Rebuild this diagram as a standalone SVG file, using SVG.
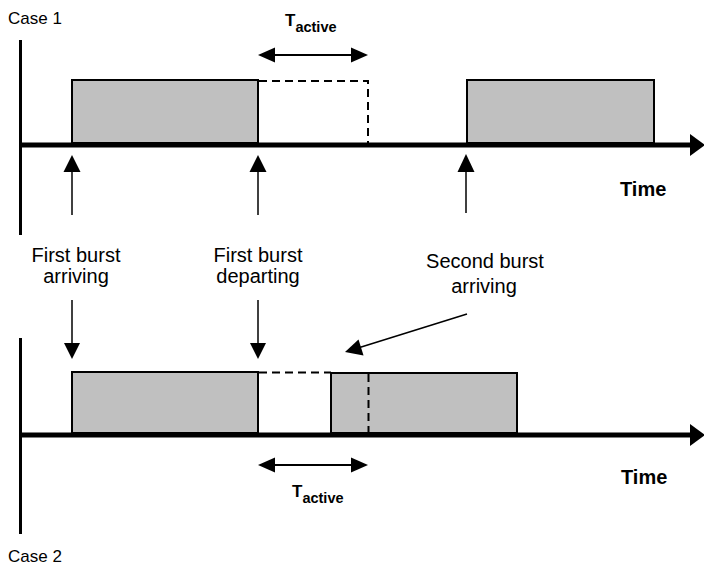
<svg xmlns="http://www.w3.org/2000/svg" width="704" height="571" viewBox="0 0 704 571">
<defs>
<style>
text{font-family:"Liberation Sans",Arial,sans-serif;fill:#000}
.lbl{font-size:20px}
.case{font-size:17px}
.time{font-size:20px;font-weight:bold}
.tb{font-size:17px;font-weight:bold}
.ts{font-size:14.5px;font-weight:bold}
.box{fill:#c0c0c0;stroke:#000;stroke-width:2}
.dash{fill:none;stroke:#000;stroke-width:2;stroke-dasharray:8,5}
.vax{stroke:#000;stroke-width:3}
.hax{stroke:#000;stroke-width:5}
.ln{stroke:#000;stroke-width:2;fill:none}
.ln1{stroke:#000;stroke-width:1.5;fill:none}
.hd{fill:#000}
</style>
</defs>
<text class="case" x="8" y="24">Case 1</text>
<text class="case" x="8" y="562">Case 2</text>

<g id="case1-axes">
<line class="vax" x1="20.5" y1="40" x2="20.5" y2="235"/>
<line class="hax" x1="22" y1="145" x2="692" y2="145"/>
<polygon class="hd" points="690,134 705,145 690,156"/>
</g>
<g id="case1-burst1"><rect class="box" x="72" y="80" width="186" height="63"/></g>
<g id="case1-active"><polyline class="dash" points="259,81 368,81 368,143"/></g>
<g id="case1-burst2"><rect class="box" x="467" y="80" width="187" height="63"/></g>
<g id="case1-tactive">
<text x="285" y="26"><tspan class="tb">T</tspan><tspan class="ts" dy="5.5">active</tspan></text>
</g>
<text class="time" x="620" y="196">Time</text>

<g id="case2-axes">
<line class="vax" x1="20.5" y1="338" x2="20.5" y2="534"/>
<line class="hax" x1="22" y1="435" x2="692" y2="435"/>
<polygon class="hd" points="690,424 705,435 690,446"/>
</g>
<g id="case2-burst1"><rect class="box" x="72" y="372" width="186" height="61"/></g>
<g id="case2-burst2"><rect class="box" x="331" y="373" width="186" height="60"/></g>
<g id="case2-active"><polyline class="dash" points="259,372.5 331,372.5"/><line class="dash" x1="368.5" y1="374" x2="368.5" y2="433"/></g>
<g id="case2-tactive">
<text x="292" y="497"><tspan class="tb">T</tspan><tspan class="ts" dy="5.5">active</tspan></text>
</g>
<text class="time" x="621" y="484">Time</text>

<g id="labels">
<text class="lbl" x="76" y="262" text-anchor="middle">First burst</text>
<text class="lbl" x="76" y="283" text-anchor="middle">arriving</text>
<text class="lbl" x="258" y="262" text-anchor="middle">First burst</text>
<text class="lbl" x="258" y="283" text-anchor="middle">departing</text>
<text class="lbl" x="485" y="268" text-anchor="middle">Second burst</text>
<text class="lbl" x="484" y="293" text-anchor="middle">arriving</text>
</g>

<g id="connectors">
<line class="ln1" x1="72" y1="170" x2="72" y2="215"/>
<polygon class="hd" points="72,155 63.5,172 80.5,172"/>
<line class="ln1" x1="258" y1="170" x2="258" y2="215"/>
<polygon class="hd" points="258,155 249.5,172 266.5,172"/>
<line class="ln1" x1="466" y1="170" x2="466" y2="213"/>
<polygon class="hd" points="466,154 457.5,172 474.5,172"/>

<line class="ln1" x1="72" y1="300" x2="72" y2="345"/>
<polygon class="hd" points="72,359 64,343 80,343"/>
<line class="ln1" x1="258" y1="300" x2="258" y2="345"/>
<polygon class="hd" points="258,359 250,343 266,343"/>

<line class="ln1" x1="467" y1="314" x2="358" y2="348"/>
<polygon class="hd" points="345,352 358.5,339.5 363.5,355.5"/>

<line class="ln" x1="272" y1="55" x2="354" y2="55"/>
<polygon class="hd" points="258,55 275,47.5 275,62.5"/>
<polygon class="hd" points="368,55 351,47.5 351,62.5"/>
<line class="ln" x1="272" y1="465" x2="354" y2="465"/>
<polygon class="hd" points="258,465 275,457.5 275,472.5"/>
<polygon class="hd" points="368,465 351,457.5 351,472.5"/>
</g>
</svg>
